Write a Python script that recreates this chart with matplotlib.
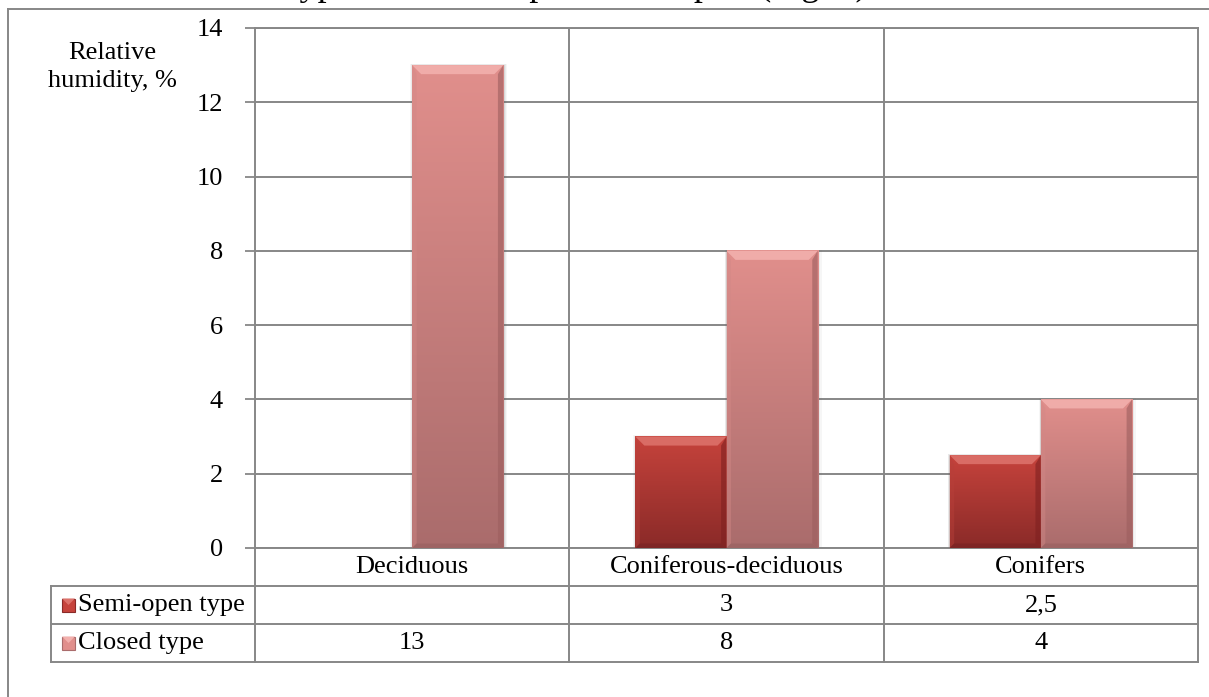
import numpy as np
import matplotlib
matplotlib.use("Agg")
import matplotlib.pyplot as plt
from matplotlib.colors import LinearSegmentedColormap
from matplotlib.patches import Rectangle, Polygon
from matplotlib.lines import Line2D

# ---- data ----
categories = ["Deciduous", "Coniferous-deciduous", "Conifers"]
series_names = ["Semi-open type", "Closed type"]
semi_open = [None, 3, 2.5]
closed = [13, 8, 4]
value_labels = {
    "Semi-open type": ["", "3", "2,5"],
    "Closed type": ["13", "8", "4"],
}
yticks = [0, 2, 4, 6, 8, 10, 12, 14]
ylabel = "Relative\nhumidity, %"
title = "Types of the composition of plot (Fig. 1)"

# ---- style ----
plt.rcParams["font.family"] = ["Liberation Serif", "DejaVu Serif"]
GRID = "#878787"
FS = 19

styles = {
    "Semi-open type": dict(top="#c6433c", bottom="#8a2a28", bevel_top="#dc716a",
                           bevel_left="#b8403a", bevel_right="#7e2020",
                           bevel_bottom="#7a2424"),
    "Closed type": dict(top="#e18f8c", bottom="#aa6c6c", bevel_top="#f2b0ad",
                        bevel_left="#d28886", bevel_right="#9c5e5e",
                        bevel_bottom="#9a6262"),
}

W, H = 1209, 697
fig = plt.figure(figsize=(W / 100, H / 100), dpi=100)


def fx(px):
    return px / W


def fy(py):
    return 1 - py / H


# plot area
ax = fig.add_axes([fx(255), fy(548), (1198 - 255) / W, (548 - 28) / H])
xlim = (-0.5, len(categories) - 0.5)
ylim = (0, 14)

bar_w = 0.29
ax_w_px = (1198 - 255)
ax_h_px = (548 - 28)
px_x = (xlim[1] - xlim[0]) / ax_w_px  # data units per pixel
px_y = (ylim[1] - ylim[0]) / ax_h_px
bev = 9  # bevel size in pixels


def bevel_bar(x0, h, st):
    if h is None or h <= 0:
        return
    x1 = x0 + bar_w
    bx, by = bev * px_x, bev * px_y
    # soft shadow
    for k, a in [(4, 0.05), (2.5, 0.08), (1.2, 0.12)]:
        ax.add_patch(Rectangle((x0 - k * px_x * 0.5, -k * px_y * 0.3),
                               bar_w + 1.5 * k * px_x, h + k * px_y * 0.6,
                               facecolor="#555555", edgecolor="none", alpha=a, zorder=2))
    cmap = LinearSegmentedColormap.from_list("g", [st["bottom"], st["top"]])
    grad = np.linspace(0, 1, 256).reshape(-1, 1)
    ax.imshow(grad, extent=[x0, x1, 0, h], origin="lower", aspect="auto",
              cmap=cmap, zorder=3, interpolation="bilinear")
    # bevel faces
    ax.add_patch(Polygon([(x0, h), (x1, h), (x1 - bx, h - by), (x0 + bx, h - by)],
                         closed=True, facecolor=st["bevel_top"], edgecolor="none",
                         alpha=0.9, zorder=4))
    ax.add_patch(Polygon([(x0, h), (x0 + bx * 0.5, h - by), (x0 + bx * 0.5, by * 0.5), (x0, 0)],
                         closed=True, facecolor=st["bevel_left"], edgecolor="none",
                         alpha=0.45, zorder=4))
    ax.add_patch(Polygon([(x1, h), (x1 - bx * 0.6, h - by), (x1 - bx * 0.6, by * 0.5), (x1, 0)],
                         closed=True, facecolor=st["bevel_right"], edgecolor="none",
                         alpha=0.6, zorder=4))
    ax.add_patch(Polygon([(x0, 0), (x1, 0), (x1 - bx * 0.6, by * 0.5), (x0 + bx * 0.5, by * 0.5)],
                         closed=True, facecolor=st["bevel_bottom"], edgecolor="none",
                         alpha=0.7, zorder=4))


for i, cat in enumerate(categories):
    bevel_bar(i - bar_w, semi_open[i], styles["Semi-open type"])
    bevel_bar(i, closed[i], styles["Closed type"])

ax.set_xlim(*xlim)
ax.set_ylim(*ylim)
ax.set_yticks(yticks)
ax.set_yticklabels([str(t) for t in yticks], fontsize=FS)
ax.yaxis.grid(True, color=GRID, linewidth=1.4)
ax.set_axisbelow(True)
ax.set_xticks([])
ax.tick_params(axis="y", direction="out", length=7, width=1.3, color=GRID, pad=16)
for sp in ax.spines.values():
    sp.set_color(GRID)
    sp.set_linewidth(1.4)
for b in np.arange(xlim[0] + 1, xlim[1], 1.0):
    ax.axvline(b, color=GRID, linewidth=1.4, zorder=1)

fig.text(fx(112), fy(67), ylabel, ha="center", va="center", fontsize=FS,
         linespacing=1.4)

# ---- data table under the plot ----
to_fig = fig.transFigure.inverted()


def col_x(v):
    return to_fig.transform(ax.transData.transform((v, 0)))[0]


col_edges = [col_x(e) for e in np.arange(xlim[0], xlim[1] + 0.01, 1.0)]
row_y = [548, 586, 624, 662]
tab_left = fx(51)

line_kw = dict(color=GRID, linewidth=1.4, transform=fig.transFigure)
for r in row_y[1:]:
    fig.add_artist(Line2D([tab_left, col_edges[-1]], [fy(r), fy(r)], **line_kw))
fig.add_artist(Line2D([tab_left, tab_left], [fy(row_y[1]), fy(row_y[-1])], **line_kw))
for e in col_edges:
    fig.add_artist(Line2D([e, e], [fy(row_y[0]), fy(row_y[-1])], **line_kw))

for i, cat in enumerate(categories):
    cx = (col_edges[i] + col_edges[i + 1]) / 2
    fig.text(cx, fy((row_y[0] + row_y[1]) / 2), cat, ha="center", va="center",
             fontsize=FS)
    for r, name in enumerate(series_names):
        fig.text(cx, fy((row_y[r + 1] + row_y[r + 2]) / 2), value_labels[name][i],
                 ha="center", va="center", fontsize=FS)

for r, name in enumerate(series_names):
    yc = (row_y[r + 1] + row_y[r + 2]) / 2
    st = styles[name]
    size = 13
    mx = 62
    fig.add_artist(Rectangle((fx(mx), fy(yc + size / 2)), size / W, size / H,
                             facecolor=st["top"], edgecolor=st["bottom"],
                             linewidth=0.8, transform=fig.transFigure))
    fig.add_artist(Polygon([(fx(mx), fy(yc - size / 2)), (fx(mx + size), fy(yc - size / 2)),
                            (fx(mx + size / 2), fy(yc))], closed=True,
                           facecolor=st["bevel_top"], edgecolor="none",
                           transform=fig.transFigure))
    fig.text(fx(78), fy(yc), name, ha="left", va="center", fontsize=FS)

# ---- chart frame and title ----
fig.add_artist(Line2D([fx(8), 1], [fy(9), fy(9)], **line_kw))
fig.add_artist(Line2D([fx(8), fx(8)], [fy(9), 0], **line_kw))
fig.text(fx(280), fy(-5), title, ha="left", va="baseline", fontsize=26)

fig.savefig("out.png", dpi=100, facecolor="white")
